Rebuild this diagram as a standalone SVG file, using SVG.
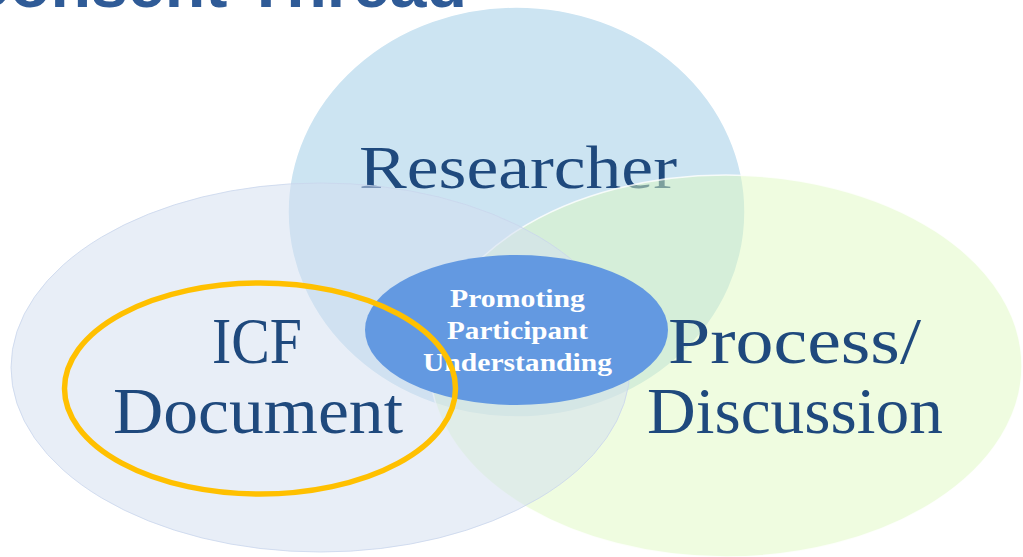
<svg xmlns="http://www.w3.org/2000/svg" width="1023" height="557" viewBox="0 0 1023 557">
  <style>
    .lbl { font-family: "Liberation Serif", "Times New Roman", serif; fill: #1f497d; }
    .big { font-size: 65px; }
    .ctr { font-family: "Liberation Serif", "Times New Roman", serif; font-weight: bold; font-size: 26px; fill: #ffffff; }
    .title { font-family: "Liberation Sans", Arial, sans-serif; font-weight: bold; font-size: 64px; fill: #2f5b97; }
  </style>
  <rect width="1023" height="557" fill="#ffffff"/>
  <text class="title" x="-38" y="7" textLength="505" lengthAdjust="spacingAndGlyphs">Consent Thread</text>
  <g id="researcher">
    <ellipse cx="516.5" cy="212" rx="228.5" ry="205" fill="#cce4f2" stroke="#ffffff" stroke-width="1.5"/>
    <text class="lbl" x="359" y="188" font-size="62" textLength="318" lengthAdjust="spacingAndGlyphs">Researcher</text>
  </g>
  <g id="process">
    <ellipse cx="726" cy="366" rx="296" ry="191" fill="#def9c0" fill-opacity="0.49" stroke="#ffffff" stroke-opacity="0.8" stroke-width="1.5"/>
  </g>
  <g id="icf">
    <ellipse cx="320.5" cy="367.5" rx="309.5" ry="184.5" fill="#d4dff0" fill-opacity="0.53" stroke="#c9d6ec" stroke-opacity="0.8" stroke-width="1"/>
  </g>
  <g id="center">
    <ellipse cx="516.5" cy="330" rx="151.5" ry="75" fill="#6399e1"/>
    <text class="ctr" x="450" y="307" textLength="135" lengthAdjust="spacingAndGlyphs">Promoting</text>
    <text class="ctr" x="447" y="339" textLength="141" lengthAdjust="spacingAndGlyphs">Participant</text>
    <text class="ctr" x="423" y="371" textLength="189" lengthAdjust="spacingAndGlyphs">Understanding</text>
  </g>
  <g id="highlight">
    <ellipse cx="260" cy="388.5" rx="195.5" ry="105.5" fill="none" stroke="#ffc000" stroke-width="5.5"/>
  </g>
  <g id="icf-label">
    <text class="lbl big" x="212" y="363" textLength="90" lengthAdjust="spacingAndGlyphs">ICF</text>
    <text class="lbl big" x="113" y="433" textLength="290" lengthAdjust="spacingAndGlyphs">Document</text>
  </g>
  <g id="process-label">
    <text class="lbl big" x="668" y="363" textLength="253" lengthAdjust="spacingAndGlyphs">Process/</text>
    <text class="lbl big" x="647" y="433" textLength="296" lengthAdjust="spacingAndGlyphs">Discussion</text>
  </g>
  <g id="connectors"/>
</svg>
